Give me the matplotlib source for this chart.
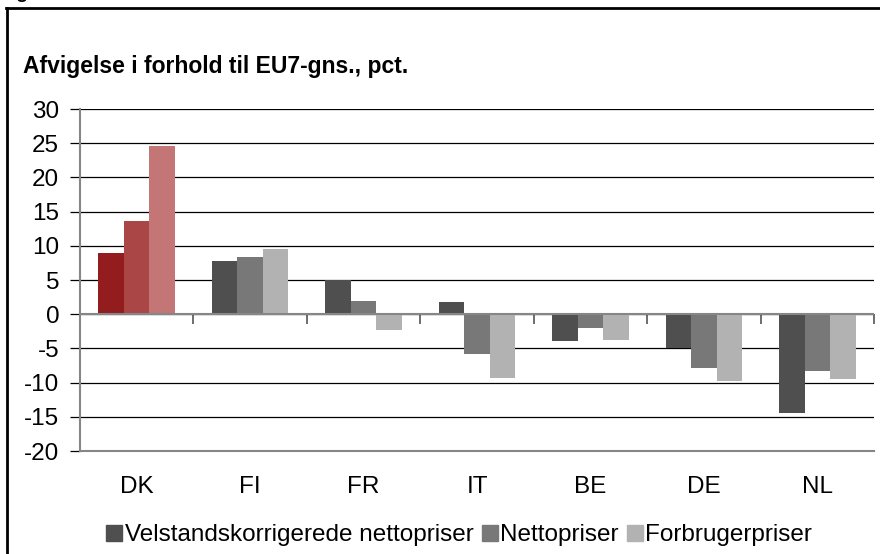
import matplotlib
matplotlib.use('Agg')
import matplotlib.pyplot as plt
from matplotlib.lines import Line2D
import numpy as np

plt.rcParams['font.family'] = ['Liberation Sans', 'DejaVu Sans']

countries = ['DK', 'FI', 'FR', 'IT', 'BE', 'DE', 'NL']
series_names = ['Velstandskorrigerede nettopriser', 'Nettopriser', 'Forbrugerpriser']
velstand = [8.9, 7.8, 5.0, 1.8, -3.9, -5.0, -14.4]
netto = [13.7, 8.4, 2.0, -5.8, -2.0, -7.9, -8.3]
forbruger = [24.6, 9.6, -2.3, -9.3, -3.8, -9.7, -9.4]
yticks = list(range(-20, 31, 5))

grey_colors = ['#4f4f4f', '#787878', '#b2b2b2']
dk_colors = ['#931c1f', '#ab4646', '#c47676']

fig = plt.figure(figsize=(8.8, 5.54), dpi=100)
ax = fig.add_axes([0.0909, 0.1859, 0.9023, 0.6173])

x = np.arange(len(countries))
width = 0.225
for i, (vals, name) in enumerate(zip([velstand, netto, forbruger], series_names)):
    colors = [dk_colors[i] if c == 'DK' else grey_colors[i] for c in countries]
    ax.bar(x + (i - 1) * width, vals, width, color=colors, label=name, zorder=3)

ax.set_xlim(-0.5, len(countries) - 0.5)
ax.set_ylim(-20, 30)
ax.set_yticks(yticks)
ax.set_yticklabels([str(t) for t in yticks], fontsize=17.5)
ax.yaxis.grid(True, color='#000000', linewidth=0.9, zorder=0)
ax.tick_params(axis='y', direction='out', length=7, width=0.9, color='#000000', pad=8)

ax.set_xticks(x)
ax.set_xticklabels(countries, fontsize=17.5)
ax.tick_params(axis='x', length=0, pad=18)

for s in ['top', 'right']:
    ax.spines[s].set_visible(False)
for s in ['left', 'bottom']:
    ax.spines[s].set_color('#868686')
    ax.spines[s].set_linewidth(1.5)

# category axis at zero with tick marks between groups
ax.axhline(0, color='#868686', linewidth=1.5, zorder=4)
sec = ax.secondary_xaxis(0.4)
sec.set_xticks(np.arange(-0.5, len(countries), 1.0))
sec.set_xticklabels([])
sec.tick_params(direction='out', length=7, width=1.2, color='#555555')
sec.spines['bottom'].set_visible(False)

fig.text(0.026, 0.868, 'Afvigelse i forhold til EU7-gns., pct.',
         fontsize=16.5, fontweight='bold', ha='left', va='baseline')
fig.text(0.0, 1.003, 'Figur', fontsize=14, fontweight='bold', ha='left', va='baseline')

handles, labels = ax.get_legend_handles_labels()
leg = fig.legend(handles, labels, loc='center left', bbox_to_anchor=(0.121, 0.034),
                 ncol=3, frameon=False, fontsize=17.5, handlelength=0.65,
                 handleheight=0.65, handletextpad=0.1, columnspacing=0.35,
                 borderpad=0, borderaxespad=0)
for h, c in zip(leg.legend_handles, grey_colors):
    h.set_color(c)

# outer frame (left and top only)
fig.add_artist(Line2D([0.0078, 0.0078], [0, 0.985], transform=fig.transFigure,
                      color='black', linewidth=2))
fig.add_artist(Line2D([0.0068, 1.0], [0.985, 0.985], transform=fig.transFigure,
                      color='black', linewidth=2))

fig.savefig('out.png', dpi=100)
